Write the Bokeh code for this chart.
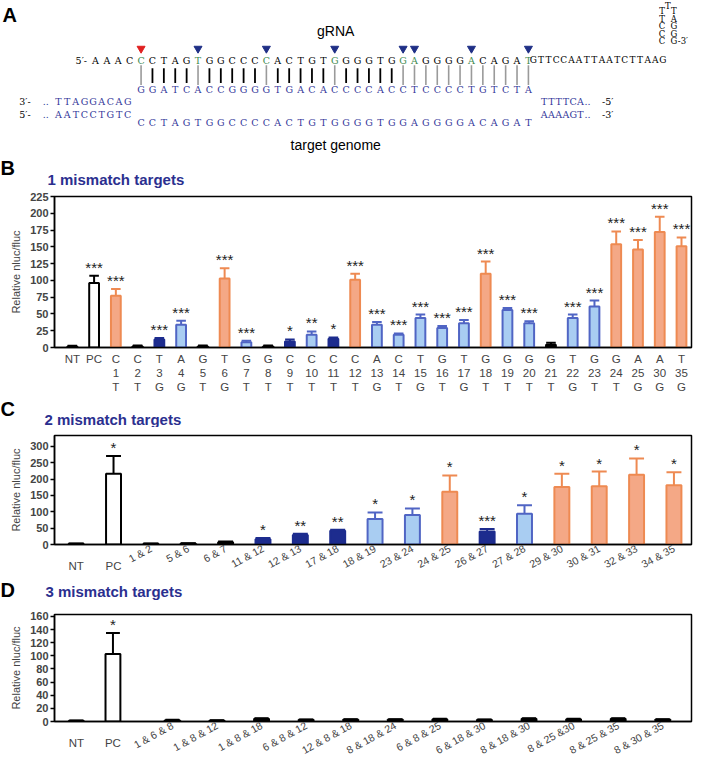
import numpy as np
from bokeh.plotting import figure
from bokeh.layouts import column
from bokeh.models import Range1d, FixedTicker, ColumnDataSource, LinearAxis
from bokeh.core.properties import value
from bokeh.embed import file_html
from bokeh.resources import INLINE

# ---------------- data: panel A ----------------
target_seq = list("CCTAGTGGCCCCACTGTGGGGTGGAGGGGACAGAT")
paired_strand = list("GGATCACCGGGGTGACACCCCACCTCCCCTGTCTA")
mismatch_pos = [1, 6, 12, 18, 24, 25, 30, 35]
grna_5p = list("AAAC")
grna_tail = list("GTTCCAATTAATCTTAAG")
hairpin_left = ["T", "T", "C", "C", "C"]
hairpin_right = ["T", "A", "G", "G", "G"]
hairpin_top = ["T"]
genome_top_left = list("TTAGGACAG")
genome_top_right = list("TTTTCA")
genome_bot_left = list("AATCCTGTC")
genome_bot_right = list("AAAAGT")

# ---------------- data: panel B ----------------
b_ref = ["C", "C", "T", "A", "G", "T", "G", "G", "C", "C", "C", "C", "A", "C", "T",
         "G", "T", "G", "G", "G", "G", "T", "G", "G", "A", "A", "T"]
b_pos = [str(i) for i in range(1, 26)] + ["30", "35"]
b_alt = ["T", "T", "G", "G", "T", "G", "T", "T", "T", "T", "T", "T", "G", "T", "G",
         "T", "G", "T", "T", "T", "T", "G", "T", "T", "G", "G", "G"]
b_mean = [1.5, 96, 77, 2, 12, 34, 2, 103, 8, 2, 9, 19, 13, 101, 34, 19, 44, 29, 36,
          110, 56, 36, 4, 44, 61, 154, 146, 172, 151]
b_err = [2.5, 107, 87, 3, 14, 40, 3, 118, 10, 3, 12, 24, 15, 110, 38, 21, 49, 32, 41,
         128, 59, 39, 7, 49, 70, 173, 160, 195, 164]
b_stars = ["", "***", "***", "", "***", "***", "", "***", "***", "", "*", "**", "*",
           "***", "***", "***", "***", "***", "***", "***", "***", "***", "", "***",
           "***", "***", "***", "***", "***"]
b_group = ["neg", "pos", "strong", "neg", "weak", "partial", "neg", "strong", "partial",
           "neg", "weak", "partial", "weak", "strong", "partial", "partial", "partial",
           "partial", "partial", "strong", "partial", "partial", "neg", "partial",
           "partial", "strong", "strong", "strong", "strong"]
b_yticks = [0, 25, 50, 75, 100, 125, 150, 175, 200, 225]

# ---------------- data: panel C ----------------
c_labels = ["NT", "PC", "1 & 2", "5 & 6", "6 & 7", "11 & 12", "12 & 13", "17 & 18",
            "18 & 19", "23 & 24", "24 & 25", "26 & 27", "27 & 28", "29 & 30",
            "30 & 31", "32 & 33", "34 & 35"]
c_mean = [2, 216, 2, 3, 7, 16, 29, 42, 78, 90, 161, 40, 94, 176, 178, 213, 181]
c_err = [3, 270, 3, 4, 9, 20, 33, 45, 98, 110, 211, 47, 120, 216, 223, 263, 221]
c_stars = ["", "*", "", "", "", "*", "**", "**", "*", "*", "*", "***", "*", "*", "*", "*", "*"]
c_group = ["neg", "pos", "neg", "neg", "neg", "weak", "weak", "weak", "partial", "partial",
           "strong", "weak", "partial", "strong", "strong", "strong", "strong"]
c_yticks = [0, 50, 100, 150, 200, 250, 300]

# ---------------- data: panel D ----------------
d_labels = ["NT", "PC", "1 & 6 & 8", "1 & 8 & 12", "1 & 8 & 18", "6 & 8 & 12",
            "12 & 8 & 18", "8 & 18 & 24", "6 & 8 & 25", "6 & 18 & 30", "8 & 18 & 30",
            "8 & 25 &30", "8 & 25 & 35", "8 & 30 & 35"]
d_mean = [1, 103, 2, 1.5, 4, 2.5, 3, 3, 3.5, 2.5, 4, 3.5, 4, 3]
d_err = [1.5, 135, 2.5, 2, 5, 3, 3.5, 3.5, 4, 3, 5, 4, 5, 3.5]
d_stars = ["", "*", "", "", "", "", "", "", "", "", "", "", "", ""]
d_group = ["neg", "pos"] + ["neg"] * 12
d_yticks = [0, 20, 40, 60, 80, 100, 120, 140, 160]

# ---------------- styles ----------------
W = 693
SANS = "Liberation Sans"
SEQ = "DejaVu Serif"
NAVY = "#2B2F8F"
GREEN = "#3C8A4E"
SEQ_BLUE = "#33379A"
FILL = {"neg": "black", "pos": "white", "strong": "#F4A886", "partial": "#A9CDF2", "weak": "#1D2C8E"}
EDGE = {"neg": "black", "pos": "black", "strong": "#EE8A52", "partial": "#5065C4", "weak": "#1D2C8E"}


def no_align(f):
    try:
        f.frame_align = False
    except Exception:
        pass


def blank(h, xr, yr):
    f = figure(width=W, height=h, x_range=Range1d(*xr), y_range=Range1d(*yr),
               x_axis_type=None, y_axis_type=None, toolbar_location=None,
               output_backend="svg", min_border=0)
    f.grid.visible = False
    f.outline_line_color = None
    no_align(f)
    return f


def txt(f, x, y, t, size, font=SANS, color="black", align="center", baseline="middle", style="normal"):
    f.text(x=x, y=y, text=t, text_font=value(font), text_font_size=size, text_color=color,
           text_align=align, text_baseline=baseline, text_font_style=style)


# ---------------- panel A ----------------
pa = blank(156, (4, 709), (159, 0))
step = 11.59
x1 = 147.0
pos = np.arange(1, 36)
xs = x1 + (pos - 1) * step
txt(pa, [6], [15], ["A"], "20px", style="bold", align="left")
txt(pa, [345], [31], ["gRNA"], "14px")

tri_x = [x1 + (m - 1) * step for m in mismatch_pos]
tri_c = ["#E02020" if m == 1 else "#1F2F86" for m in mismatch_pos]
pa.scatter(x=tri_x, y=[49] * len(tri_x), marker="inverted_triangle", size=8,
           fill_color=tri_c, line_color=tri_c)

top_col = [GREEN if p in mismatch_pos else "black" for p in pos]
txt(pa, list(xs), [61] * 35, target_seq, "9.5px", font=SEQ, color=top_col)
x5 = x1 + (np.arange(len(grna_5p)) - len(grna_5p)) * step
txt(pa, list(x5), [61] * 4, grna_5p, "9.5px", font=SEQ)
txt(pa, [92], [61], ["5\u2032-"], "9.5px", font=SEQ, align="right")
xt = 546 + np.arange(len(grna_tail)) * 7.76
txt(pa, list(xt), [61] * len(grna_tail), grna_tail, "9px", font=SEQ)
rows = 11 + np.arange(5) * 7.6
txt(pa, [677] * 5, list(rows), hairpin_left, "8.5px", font=SEQ)
txt(pa, [689] * 5, list(rows), hairpin_right, "8.5px", font=SEQ)
txt(pa, [683], [5.5], hairpin_top, "8.5px", font=SEQ)
txt(pa, [693], [rows[-1]], ["-3\u2032"], "8.5px", font=SEQ, align="left")

long_line = [(p in mismatch_pos) or p >= 24 for p in pos]
lx = [x for x, l in zip(xs, long_line) if l]
sx = [x for x, l in zip(xs, long_line) if not l]
pa.segment(x0=lx, y0=[66] * len(lx), x1=lx, y1=[86] * len(lx), line_color="#9A9A9A", line_width=1.6)
pa.segment(x0=sx, y0=[69] * len(sx), x1=sx, y1=[84] * len(sx), line_color="black", line_width=1.8)

txt(pa, list(xs), [91] * 35, paired_strand, "9.5px", font=SEQ, color=SEQ_BLUE)
txt(pa, list(xs), [124] * 35, target_seq, "9.5px", font=SEQ, color=SEQ_BLUE)
gl = 63 + np.arange(9) * 8.8
gr = 557 + np.arange(6) * 7.4
txt(pa, [23], [103], ["3\u2032-"], "9.5px", font=SEQ, align="left")
txt(pa, [23], [116], ["5\u2032-"], "9.5px", font=SEQ, align="left")
txt(pa, [47, 47], [103, 116], ["..", ".."], "9.5px", font=SEQ, color=SEQ_BLUE, align="left")
txt(pa, list(gl), [103] * 9, genome_top_left, "9.5px", font=SEQ, color=SEQ_BLUE)
txt(pa, list(gl), [116] * 9, genome_bot_left, "9.5px", font=SEQ, color=SEQ_BLUE)
txt(pa, list(gr), [103] * 6, genome_top_right, "9.5px", font=SEQ, color=SEQ_BLUE)
txt(pa, list(gr), [116] * 6, genome_bot_right, "9.5px", font=SEQ, color=SEQ_BLUE)
txt(pa, [598, 598], [103, 116], ["..", ".."], "9.5px", font=SEQ, color=SEQ_BLUE, align="left")
txt(pa, [616, 616], [103, 116], ["-5\u2032", "-3\u2032"], "9.5px", font=SEQ, align="left")
txt(pa, [345], [147], ["target genome"], "14px")


# ---------------- bar panels ----------------
def header(h, y0, y1, letter, ly, title, tx, ty):
    f = blank(h, (8, 701), (y1, y0))
    txt(f, [8], [ly], [letter], "20px", style="bold", align="left")
    txt(f, [tx], [ty], [title], "15px", color=NAVY, align="left", style="bold")
    return f


def bars(h, btop, bbot, x, xr, ytop, yticks, mean, err, stars, groups, bw, capw):
    f = figure(width=W, height=h, x_range=Range1d(*xr), y_range=Range1d(0, ytop),
               toolbar_location=None, output_backend="svg",
               min_border_left=54, min_border_right=2, min_border_top=btop, min_border_bottom=bbot)
    no_align(f)
    f.grid.visible = False
    f.outline_line_color = "black"
    f.outline_line_width = 1.5
    x = np.asarray(x, dtype=float)
    src = ColumnDataSource(dict(x=x, mean=mean, err=err, stars=stars,
                                fill=[FILL[g] for g in groups], edge=[EDGE[g] for g in groups],
                                x0=x - capw, x1=x + capw))
    f.segment(x0="x", y0="mean", x1="x", y1="err", line_color="edge", line_width=2, source=src)
    f.segment(x0="x0", y0="err", x1="x1", y1="err", line_color="edge", line_width=2, source=src)
    f.vbar(x="x", top="mean", bottom=0, width=bw, fill_color="fill", line_color="edge",
           line_width=2, source=src)
    f.text(x="x", y="err", text="stars", text_align="center", text_baseline="bottom",
           text_font=value(SANS), text_font_size="15px", text_color="#222222", source=src)
    ya = f.yaxis[0]
    ya.ticker = FixedTicker(ticks=yticks)
    ya.major_tick_out = 4
    ya.major_tick_in = 0
    ya.minor_tick_out = 0
    ya.minor_tick_in = 0
    ya.axis_line_width = 1.5
    ya.major_tick_line_width = 1.5
    ya.major_label_text_font = SANS
    ya.major_label_text_font_style = "bold"
    ya.major_label_text_font_size = "11px"
    ya.major_label_standoff = 2
    ya.axis_label = "Relative nluc/fluc"
    ya.axis_label_text_font = SANS
    ya.axis_label_text_font_style = "normal"
    ya.axis_label_text_font_size = "11px"
    ya.axis_label_standoff = 5
    xa = f.xaxis[0]
    xa.ticker = FixedTicker(ticks=list(x))
    xa.major_tick_out = 0
    xa.major_tick_in = 0
    xa.minor_tick_out = 0
    xa.minor_tick_in = 0
    xa.axis_line_width = 1.5
    xa.major_label_text_font = SANS
    xa.major_label_text_font_size = "11.5px"
    xa.major_label_standoff = 5
    return f, xa


def ctrl_axis(f, x, labels, standoff):
    ax = LinearAxis(ticker=FixedTicker(ticks=[float(v) for v in x[:2]]),
                    major_label_overrides={int(v): l for v, l in zip(x[:2], labels[:2])},
                    axis_line_color=None, major_tick_line_color=None, minor_tick_line_color=None,
                    major_label_standoff=standoff, major_label_text_font=SANS,
                    major_label_text_font_size="11.5px")
    f.add_layout(ax, "below")


hb = header(32, 160, 192.7, "B", 172, "1 mismatch targets", 55, 184)
b_x = np.arange(len(b_mean))
pb, xab = bars(210, 8, 51, b_x, (-0.82, 28.46), 225, b_yticks, b_mean, b_err, b_stars,
               b_group, 0.45, 0.22)
b_labels = ["NT", "PC"] + [f"{r}\n{p}\n{a}" for r, p, a in zip(b_ref, b_pos, b_alt)]
xab.major_label_overrides = {int(i): l for i, l in zip(b_x, b_labels)}

hc = header(29, 407, 436.6, "C", 418, "2 mismatch targets", 52, 428)
c_x = np.arange(len(c_mean))
pc, xac = bars(154, 8, 37, c_x, (-0.58, 16.47), 333, c_yticks, c_mean, c_err, c_stars,
               c_group, 0.4, 0.2)
xac.major_label_overrides = {int(i): (l if i >= 2 else " ") for i, l in zip(c_x, c_labels)}
xac.major_label_orientation = 0.5
xac.major_label_text_font_size = "10.5px"
xac.major_label_standoff = 3
ctrl_axis(pc, c_x, c_labels, -25)

hd = header(24, 594, 618.5, "D", 603, "3 mismatch targets", 53, 604)
d_x = np.concatenate([[0, 37], 97 + 45 * np.arange(len(d_mean) - 2)])
pd_, xad = bars(159, 9, 41, d_x, (-22, 621), 163, d_yticks, d_mean, d_err, d_stars,
                d_group, 15, 7)
xad.major_label_overrides = {int(i): (l if k >= 2 else " ") for k, (i, l) in enumerate(zip(d_x, d_labels))}
xad.major_label_orientation = 0.5
xad.major_label_text_font_size = "10.5px"
xad.major_label_standoff = 3
ctrl_axis(pd_, d_x, d_labels, -34)

layout = column(pa, hb, pb, hc, pc, hd, pd_)
open("out.html", "w").write(file_html(layout, INLINE))
